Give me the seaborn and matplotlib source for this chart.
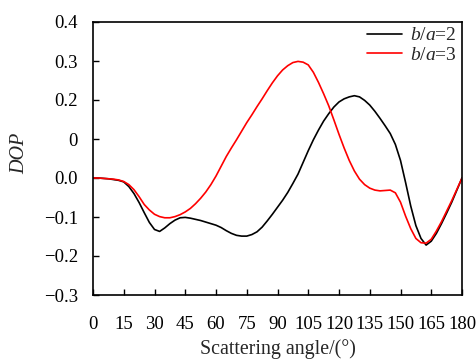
import numpy as np
import pandas as pd
import matplotlib
matplotlib.use("Agg")
import matplotlib.pyplot as plt
import seaborn as sns

# Scattering angle (degrees), sampled every 2.5 degrees
angle = [i * 2.5 for i in range(73)]

# Degree of polarisation for aspect ratio b/a = 2
dop_ba2 = [0.000, 0.000, -0.001, -0.002, -0.004, -0.006, -0.010, -0.022,
           -0.040, -0.063, -0.089, -0.114, -0.132, -0.137, -0.128, -0.117,
           -0.108, -0.102, -0.101, -0.103, -0.106, -0.109, -0.113, -0.117,
           -0.121, -0.127, -0.135, -0.142, -0.147, -0.149, -0.149, -0.145,
           -0.138, -0.126, -0.110, -0.093, -0.075, -0.057, -0.037, -0.014,
           0.010, 0.040, 0.070, 0.098, 0.123, 0.146, 0.165, 0.182,
           0.195, 0.203, 0.208, 0.211, 0.208, 0.199, 0.187, 0.171,
           0.153, 0.134, 0.114, 0.086, 0.045, -0.012, -0.072, -0.122,
           -0.155, -0.172, -0.162, -0.142, -0.117, -0.090, -0.062, -0.031,
           0.000]

# Degree of polarisation for aspect ratio b/a = 3
dop_ba3 = [0.000, 0.000, -0.001, -0.002, -0.003, -0.005, -0.009, -0.017,
           -0.030, -0.048, -0.068, -0.082, -0.093, -0.099, -0.102, -0.102,
           -0.099, -0.094, -0.087, -0.078, -0.066, -0.052, -0.036, -0.017,
           0.005, 0.030, 0.055, 0.077, 0.098, 0.120, 0.142, 0.162,
           0.183, 0.203, 0.224, 0.244, 0.262, 0.277, 0.288, 0.296,
           0.299, 0.297, 0.290, 0.271, 0.245, 0.216, 0.185, 0.149,
           0.112, 0.077, 0.045, 0.018, -0.003, -0.017, -0.026, -0.031,
           -0.033, -0.032, -0.031, -0.038, -0.062, -0.098, -0.130, -0.155,
           -0.166, -0.167, -0.157, -0.136, -0.112, -0.085, -0.058, -0.029,
           0.000]

series_names = ["$b$/$a$=2", "$b$/$a$=3"]
series_colors = ["black", "red"]

x_ticks = list(range(0, 181, 15))
y_ticks = [-0.3, -0.2, -0.1, 0.0, 0.1, 0.2, 0.3, 0.4]
y_tick_labels = ["\u22120.3", "\u22120.2", "\u22120.1", "0.0", "0", "0.2", "0.3", "0.4"]

df = pd.DataFrame({
    "angle": angle * 2,
    "dop": dop_ba2 + dop_ba3,
    "series": [series_names[0]] * len(angle) + [series_names[1]] * len(angle),
})

sns.set_style("ticks")
plt.rcParams["font.family"] = ["Liberation Serif", "DejaVu Serif"]
plt.rcParams["mathtext.fontset"] = "custom"
plt.rcParams["mathtext.rm"] = "Liberation Serif"
plt.rcParams["mathtext.it"] = "Liberation Serif:italic"

fig = plt.figure(figsize=(4.77, 3.61), dpi=100)
ax = fig.add_axes([93 / 477, 1 - 295 / 361, 369 / 477, 273 / 361])

sns.lineplot(data=df, x="angle", y="dop", hue="series",
             palette=dict(zip(series_names, series_colors)),
             linewidth=1.2, ax=ax, legend=True)

ax.set_xlim(0, 180)
ax.set_ylim(-0.3, 0.4)
ax.set_xticks(x_ticks)
ax.set_xticklabels([str(t) for t in x_ticks])
ax.set_yticks(y_ticks)
ax.set_yticklabels(y_tick_labels)
ax.tick_params(axis="both", direction="in", length=4, width=1, labelsize=13.5,
               colors="black")
ax.tick_params(axis="y", pad=11)
ax.tick_params(axis="x", pad=15)
for s in ax.spines.values():
    s.set_color("black")
    s.set_linewidth(1.2)

ax.set_xlabel("Scattering angle/(\u00b0)", fontsize=14.3)
ax.xaxis.set_label_coords(0.5, -0.162)
ax.set_ylabel("DOP", fontsize=14.5, fontstyle="italic")
ax.yaxis.set_label_coords(-0.172, 0.52)

leg = ax.legend(loc="upper right", frameon=False, fontsize=14,
                handlelength=1.75, handletextpad=0.45, labelspacing=0.1,
                borderaxespad=0.15, borderpad=0.1)

fig.savefig("out.png", dpi=100)
